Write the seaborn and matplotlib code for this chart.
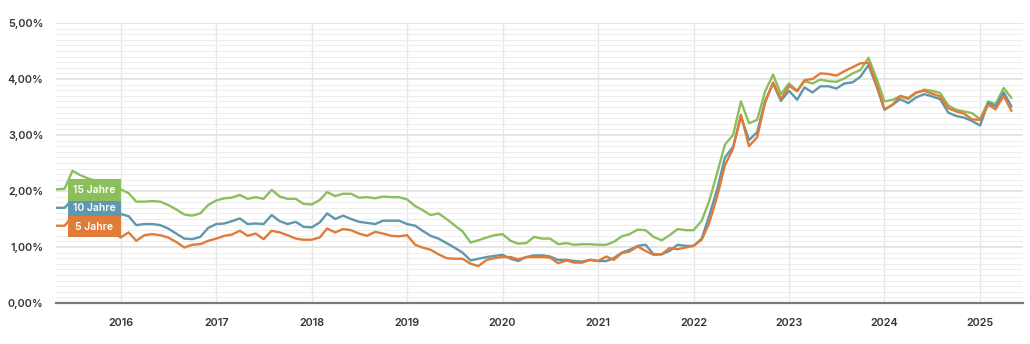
import matplotlib
matplotlib.use("Agg")
import matplotlib.pyplot as plt
import matplotlib.dates as mdates
from matplotlib.patches import Rectangle
from matplotlib.ticker import MultipleLocator, FuncFormatter
import pandas as pd
import seaborn as sns

# Monthly mortgage rates (%), May 2015 - May 2025
months = pd.date_range("2015-05-01", "2025-05-01", freq="MS")

rate_15y = [2.03, 2.04, 2.36, 2.28, 2.22, 2.18, 2.14, 2.08, 2.03, 1.96,
            1.81, 1.81, 1.82, 1.81, 1.75, 1.67, 1.58, 1.56, 1.60, 1.75,
            1.83, 1.87, 1.88, 1.93, 1.86, 1.89, 1.86, 2.02, 1.90, 1.86,
            1.86, 1.77, 1.76, 1.84, 1.98, 1.91, 1.95, 1.95, 1.88, 1.89,
            1.87, 1.90, 1.89, 1.89, 1.85, 1.73, 1.66, 1.57, 1.60, 1.50,
            1.39, 1.28, 1.08, 1.12, 1.17, 1.21, 1.23, 1.11, 1.06, 1.07,
            1.18, 1.15, 1.15, 1.05, 1.07, 1.04, 1.05, 1.05, 1.04, 1.04,
            1.09, 1.19, 1.23, 1.31, 1.30, 1.18, 1.12, 1.21, 1.32, 1.30,
            1.30, 1.47, 1.81, 2.32, 2.83, 3.00, 3.60, 3.21, 3.27, 3.77,
            4.08, 3.73, 3.92, 3.79, 3.96, 3.92, 3.99, 3.96, 3.95, 4.01,
            4.10, 4.16, 4.38, 4.02, 3.60, 3.63, 3.69, 3.64, 3.75, 3.81,
            3.79, 3.75, 3.53, 3.45, 3.42, 3.39, 3.28, 3.60, 3.55, 3.84,
            3.66]

rate_10y = [1.70, 1.70, 1.85, 1.82, 1.78, 1.74, 1.69, 1.64, 1.59, 1.55,
            1.39, 1.41, 1.41, 1.39, 1.33, 1.24, 1.15, 1.14, 1.18, 1.34,
            1.41, 1.42, 1.46, 1.51, 1.41, 1.42, 1.41, 1.57, 1.46, 1.41,
            1.45, 1.36, 1.35, 1.44, 1.60, 1.50, 1.56, 1.50, 1.45, 1.43,
            1.41, 1.47, 1.47, 1.47, 1.41, 1.38, 1.29, 1.20, 1.15, 1.07,
            0.99, 0.90, 0.76, 0.79, 0.82, 0.84, 0.86, 0.79, 0.75, 0.82,
            0.85, 0.85, 0.83, 0.77, 0.77, 0.75, 0.74, 0.77, 0.75, 0.75,
            0.80, 0.90, 0.95, 1.02, 1.04, 0.87, 0.87, 0.93, 1.04, 1.02,
            1.02, 1.15, 1.55, 2.03, 2.60, 2.79, 3.33, 2.91, 3.05, 3.60,
            3.92, 3.61, 3.79, 3.63, 3.85, 3.76, 3.87, 3.87, 3.83, 3.92,
            3.94, 4.04, 4.25, 3.88, 3.45, 3.54, 3.64, 3.57, 3.67, 3.73,
            3.69, 3.64, 3.40, 3.34, 3.31, 3.25, 3.17, 3.58, 3.51, 3.76,
            3.51]

rate_5y = [1.38, 1.38, 1.55, 1.52, 1.47, 1.42, 1.35, 1.26, 1.17, 1.26,
           1.11, 1.21, 1.23, 1.21, 1.17, 1.09, 0.99, 1.04, 1.05, 1.11,
           1.15, 1.20, 1.22, 1.29, 1.20, 1.24, 1.14, 1.29, 1.26, 1.21,
           1.15, 1.13, 1.13, 1.17, 1.33, 1.26, 1.32, 1.30, 1.24, 1.20,
           1.27, 1.24, 1.20, 1.19, 1.21, 1.04, 0.99, 0.95, 0.87, 0.80,
           0.79, 0.79, 0.70, 0.66, 0.77, 0.80, 0.82, 0.82, 0.78, 0.82,
           0.82, 0.82, 0.81, 0.71, 0.76, 0.72, 0.72, 0.77, 0.75, 0.83,
           0.77, 0.89, 0.92, 1.01, 0.93, 0.86, 0.87, 0.98, 0.96, 0.99,
           1.02, 1.13, 1.42, 1.90, 2.46, 2.76, 3.36, 2.80, 2.96, 3.57,
           3.94, 3.64, 3.88, 3.78, 3.98, 4.00, 4.10, 4.09, 4.06, 4.14,
           4.21, 4.28, 4.29, 3.92, 3.46, 3.54, 3.70, 3.66, 3.76, 3.79,
           3.74, 3.69, 3.48, 3.42, 3.38, 3.28, 3.27, 3.54, 3.46, 3.70,
           3.43]

series_names = ["15 Jahre", "10 Jahre", "5 Jahre"]
series_colors = {"15 Jahre": "#8cbf5c", "10 Jahre": "#5e98ad", "5 Jahre": "#e07b38"}

df = pd.concat([
    pd.DataFrame({"Datum": months, "Zins": rate_15y, "Laufzeit": "15 Jahre"}),
    pd.DataFrame({"Datum": months, "Zins": rate_10y, "Laufzeit": "10 Jahre"}),
    pd.DataFrame({"Datum": months, "Zins": rate_5y, "Laufzeit": "5 Jahre"}),
])

sns.set_theme(style="white")
plt.rcParams["font.family"] = ["Inter", "DejaVu Sans"]

fig = plt.figure(figsize=(10.30, 3.44), dpi=100)
ax = fig.add_axes([56 / 1030, 41 / 344, (1023 - 56) / 1030, 280 / 344])

# grid: fine 0.1 % lines, stronger whole-percent lines, yearly verticals
ax.set_ylim(0, 5)
ax.yaxis.set_major_locator(MultipleLocator(1))
ax.yaxis.set_minor_locator(MultipleLocator(0.1))
ax.grid(which="minor", axis="y", color="#efefef", linewidth=0.8)
ax.grid(which="major", axis="y", color="#e4e4e4", linewidth=1.3)
ax.xaxis.set_major_locator(mdates.YearLocator())
ax.xaxis.set_major_formatter(mdates.DateFormatter("%Y"))
ax.grid(which="major", axis="x", color="#e6e6e6", linewidth=1.0)
ax.set_axisbelow(True)

sns.lineplot(data=df, x="Datum", y="Zins", hue="Laufzeit",
             hue_order=series_names, palette=series_colors,
             linewidth=1.7, legend=False, ax=ax)

ax.set_xlim(pd.Timestamp("2015-04-29"), pd.Timestamp("2025-06-14"))
ax.set_xlabel("")
ax.set_ylabel("")

for side in ["left", "right", "top"]:
    ax.spines[side].set_visible(False)
ax.spines["bottom"].set_color("#7a7a7a")
ax.spines["bottom"].set_linewidth(1.6)

ax.yaxis.set_major_formatter(FuncFormatter(lambda v, p: f"{v:.2f}%".replace(".", ",")))
ax.tick_params(axis="y", which="both", length=0, pad=9, labelsize=7.8,
               labelcolor="#333333")
ax.tick_params(axis="x", which="both", length=0, pad=11, labelsize=7.8,
               labelcolor="#333333")
for lbl in ax.get_yticklabels() + ax.get_xticklabels():
    lbl.set_fontweight("semibold")

# series labels stacked at the left edge
box_left = mdates.date2num(pd.Timestamp("2015-06-13"))
box_right = mdates.date2num(pd.Timestamp("2016-01-01"))
box_h = 0.39
label_centers = {"10 Jahre": 1.69, "15 Jahre": 2.025, "5 Jahre": 1.365}
for name in ["10 Jahre", "15 Jahre", "5 Jahre"]:
    yc = label_centers[name]
    ax.add_patch(Rectangle((box_left, yc - box_h / 2), box_right - box_left, box_h,
                           facecolor=series_colors[name], edgecolor="none", zorder=5))
    ax.text((box_left + box_right) / 2, yc, name, color="white", fontsize=7.5,
            fontweight="semibold", ha="center", va="center", zorder=6)

fig.savefig("out.png", dpi=100)
